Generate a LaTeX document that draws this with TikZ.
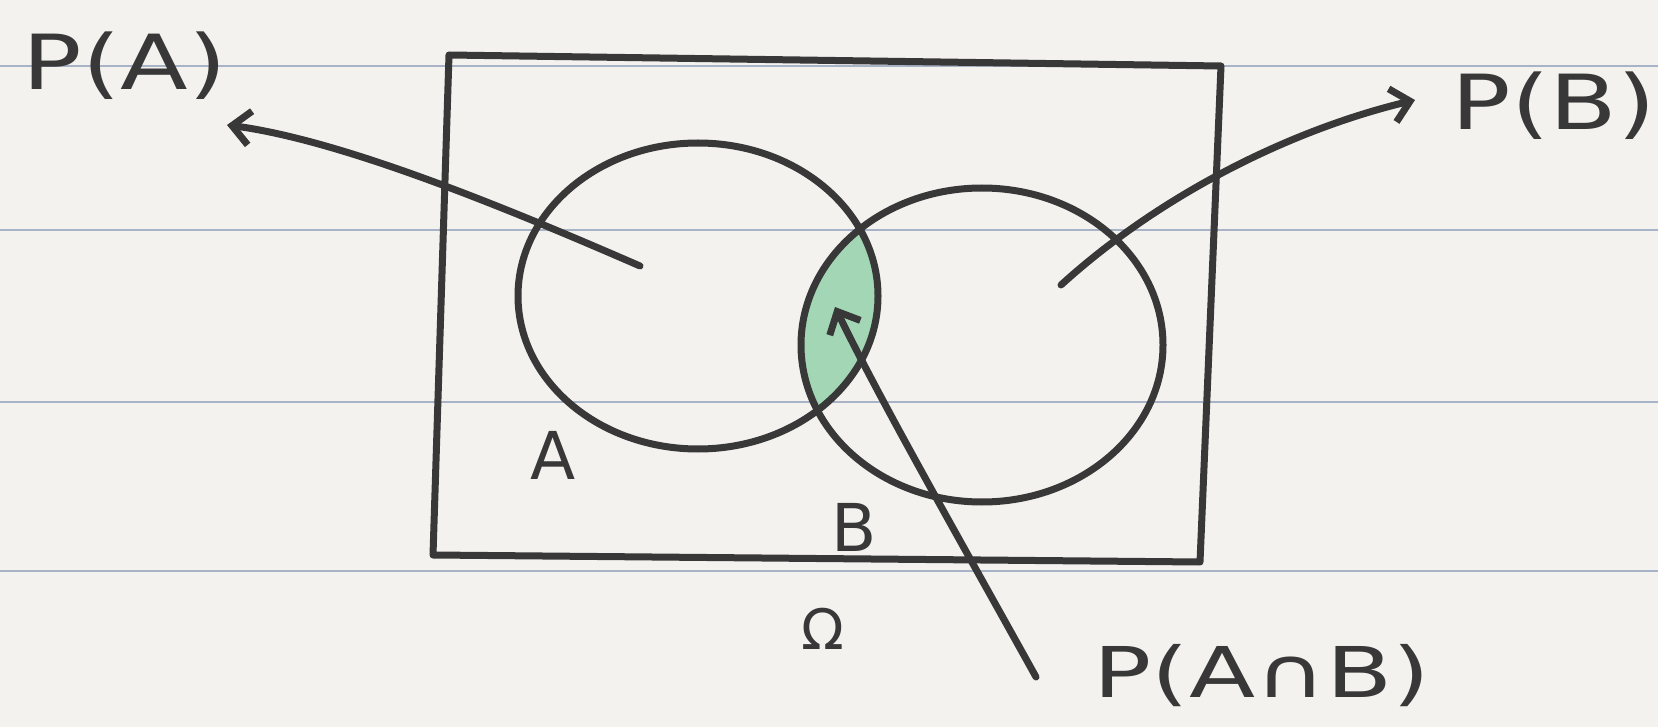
\documentclass[tikz,border=0pt]{standalone}
\usepackage{fontspec}
\setmainfont{DejaVu Sans}
\usetikzlibrary{arrows.meta,shapes.geometric}
\definecolor{paper}{HTML}{F4F2EF}
\definecolor{ink}{HTML}{383838}
\definecolor{ruleline}{HTML}{A9B3C7}
\definecolor{lens}{HTML}{A3D6B4}
\tikzset{
  pen/.style={draw=ink, line width=7pt, line cap=round, line join=round},
  ptr/.style={pen, -{Straight Barb[length=18pt,width=34pt]}},
  setshape/.style={ellipse, pen, inner sep=0pt},
  biglbl/.style={text=ink, inner sep=0pt, font=\fontsize{76}{80}\selectfont},
  smalllbl/.style={text=ink, inner sep=0pt, font=\fontsize{66}{70}\selectfont},
  paperrule/.style={draw=ruleline, line width=2.2pt}
}
\begin{document}
\begin{tikzpicture}[x=1pt,y=-1pt]
\fill[paper] (0,0) rectangle (1658,727);
\useasboundingbox (0,0) rectangle (1658,727);
% ruled paper
\foreach \yy in {66,230,402,571} \draw[paperrule] (0,\yy) -- (1658,\yy);
% shaded intersection
\begin{scope}
  \clip (698,296) ellipse [x radius=180pt, y radius=153pt];
  \fill[lens] (982,345) ellipse [x radius=181pt, y radius=157pt];
\end{scope}
% sample space
\draw[pen] (449,55) -- (1221,66) -- (1200,562) -- (433,555) -- cycle;
% sets
\node[setshape, minimum width=360pt, minimum height=306pt] (A) at (698,296) {};
\node[setshape, minimum width=362pt, minimum height=314pt] (B) at (982,345) {};
% labels
\node[smalllbl] (lA) at (553,455) {A};
\node[smalllbl] (lB) at (854,527) {B};
\node[text=ink, inner sep=0pt, font=\fontsize{56}{60}\selectfont] (lO) at (823,629) {Ω};
\node[biglbl] (PA) at (125,66) {\scalebox{1.3}[1]{P(A)}};
\node[biglbl] (PB) at (1554,106) {\scalebox{1.3}[1]{P(B)}};
\node[text=ink, inner sep=0pt, font=\fontsize{70}{74}\selectfont] (PAB) at (1262,676) {\scalebox{1.38}[1]{P(A∩B)}};
% pointers
\coordinate (sA) at (640,266);
\coordinate (tA) at (227,125);
\coordinate (sB) at (1061,285);
\coordinate (tB) at (1415,100);
\coordinate (sAB) at (1036,677);
\coordinate (tAB) at (835,307);
\draw[ptr] (sA) .. controls (500,205) and (340,140) .. (tA);
\draw[ptr] (sB) .. controls (1160,195) and (1290,130) .. (tB);
\draw[ptr] (sAB) .. controls (960,540) and (880,400) .. (tAB);
\end{tikzpicture}
\end{document}
